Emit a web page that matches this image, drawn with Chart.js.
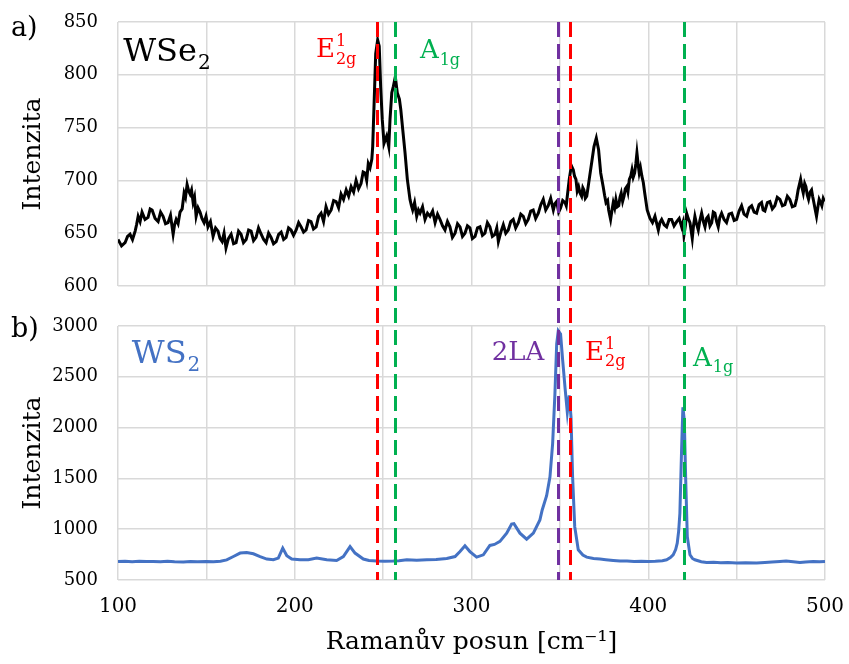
<!DOCTYPE html>
<html>
<head>
<meta charset="utf-8">
<script src="https://cdn.jsdelivr.net/npm/chart.js@4/dist/chart.umd.min.js"></script>
<style>
  body { margin: 0; background: #fff; }
  #wrap { position: relative; width: 849px; height: 664px; }
  canvas { position: absolute; left: 0; }
</style>
</head>
<body>
<div id="wrap">
  <canvas id="topChart" width="849" height="306" style="top:0"></canvas>
  <canvas id="bottomChart" width="849" height="358" style="top:306px"></canvas>
</div>
<script>
// WSe2 spectrum (a)
const wse2Shift = [
  100, 102, 104, 105.4, 106.8, 108.2, 109.7, 110.5, 111.4, 112.5,
  113.6, 115.3, 117, 118.2, 119.3, 121, 122.7, 124.1, 125.5, 126.9,
  128.3, 129.7, 131.2, 132, 132.9, 134, 135.1, 136.3, 137.4, 138.2,
  139.1, 140, 140.8, 141.6, 142.5, 143.3, 144.2, 145.3, 146.4, 147.5,
  148.7, 149.8, 150.9, 152.3, 153.8, 155.2, 156.6, 157.7, 158.9, 160,
  161.1, 162.5, 164, 165.4, 166.8, 168.2, 169.6, 171, 172.5, 173.9,
  175.3, 176.7, 178.1, 179.5, 181, 182.4, 183.8, 185.2, 186.6, 188,
  189.5, 190.9, 192.3, 193.7, 195.1, 196.5, 197.9, 199.3, 200.8, 202.2,
  203.6, 205, 206.4, 207.8, 209.2, 210.6, 212.1, 213.5, 214.9, 216.3,
  217.7, 219.1, 220.6, 222, 223.4, 224.8, 226.2, 227.6, 229.1, 230.5,
  231.9, 233.3, 234.7, 236.1, 237.5, 238.7, 239.8, 240.7, 241.6, 242.6,
  243.6,
  244.1, 244.9, 245.8, 246.9, 247.8, 248.6, 249.5, 250.5, 252, 253.2,
  253.9, 254.9, 255.8, 256.9, 258, 259.2, 260, 261.1, 262.4, 263.7,
  265.2, 266, 266.7, 267.8, 269, 270, 270.9, 272.3, 273.7, 275.1,
  276.5, 278, 279.4, 280.8, 282.2, 283.6, 285, 286.4, 287.8, 289.2,
  290.7, 292.1, 293.5, 294.9, 296.3, 297.7, 299.1, 300.5, 302, 303.4,
  304.8, 306.2, 307.6, 309, 310.4, 311.8, 313.3, 314.3, 315.2, 316.6,
  318, 319.4, 320.8, 322.2, 323.6, 325, 326.5, 327.9, 329.3, 330.7,
  332.1, 333.5, 334.9, 336.3, 337.8, 339.2, 340.6, 342, 343.4, 344.8,
  346.3, 347.2, 348.2, 349.3, 350.4, 351.6, 352.9, 353.6, 354.2, 355.3,
  356.5, 357.6, 358.3, 359.1, 359.8, 360.6, 361.4, 362.3, 363, 363.6,
  364.4, 365.2, 366, 366.6, 368, 369.3, 370.6, 371.9, 373.1, 374.5,
  375.3, 376.1, 377, 377.6, 378.7, 379.5, 380.2, 381, 381.7, 382.5,
  383.3, 384, 384.7, 385.5, 386.3, 387, 387.8, 388.5, 389.3, 390.1,
  390.8, 391.5, 392.3, 393, 393.6, 394.3, 394.9, 395.6, 396.4, 397.2,
  398, 398.7, 399.4, 400.2, 401, 402.4, 403.8, 404.8, 405.7, 406.6,
  407.6, 409, 410.4, 411.8, 413.2, 414.6, 416.1, 417.5, 418.9, 419.6,
  420.2, 421, 421.7, 422.6, 423.6, 424.3, 424.9, 425.6, 426.4, 427.3,
  428.3, 429.2, 430.2, 431.2, 432.1, 433, 433.9, 434.9, 435.9, 436.8,
  437.7, 438.7, 439.6, 440.5, 441.5, 442.9, 444.3, 445.7, 447.2, 448.6,
  450, 451.4, 452.8, 454.2, 455.7, 457.1, 458.5, 459.9, 461.3, 462.7,
  464.1, 465, 466, 467.4, 468.8, 470.2, 471.6, 473, 474.5, 475.9,
  477.3, 478.7, 480.1, 481.5, 483, 484, 484.8, 485.5, 486.2, 487,
  487.7, 488.5, 489.2, 490, 490.7, 491.6, 492.4, 493, 493.7, 494.5,
  495.2, 496, 496.7, 497.5, 498.2, 499, 499.8
];
const wse2Intensity = [
  644, 638, 641, 647, 649, 644, 652, 658, 666, 661,
  670, 663, 665, 673, 672, 664, 661, 670, 666, 659,
  660, 667, 649, 658, 663, 659, 670, 673, 688, 684,
  696, 690, 687, 691, 679, 684, 666, 674, 670, 664,
  660, 666, 656, 661, 647, 655, 652, 645, 642, 650,
  636, 645, 649, 640, 641, 652, 649, 641, 644, 653,
  652, 643, 646, 655, 649, 644, 641, 650, 646, 640,
  642, 649, 651, 644, 646, 655, 653, 648, 653, 660,
  656, 651, 653, 662, 661, 654, 656, 666, 669, 661,
  675, 668, 672, 681, 680, 674, 687, 682, 691, 685,
  694, 689, 700, 692, 697, 708, 707, 700, 716, 712,
  720,
  732, 773, 820, 833, 827, 789, 758, 735, 742, 732,
  758, 783, 789, 798, 783, 777, 767, 748, 726, 701,
  682, 676, 672, 679, 666, 672, 669, 675, 663, 669,
  666, 671, 660, 668, 663, 657, 653, 661, 656, 646,
  650, 659, 656, 647, 650, 657, 655, 645, 647, 655,
  656, 648, 650, 660, 656, 647, 649, 655, 642, 651,
  658, 650, 653, 661, 663, 655, 660, 668, 666, 659,
  663, 671, 672, 664, 669, 677, 682, 672, 676, 683,
  672, 678, 680, 670, 674, 681, 679, 676, 685, 701,
  714, 710, 704, 701, 690, 694, 688, 685, 693, 691,
  683, 685, 694, 701, 717, 732, 740, 729, 707, 694,
  686, 679, 681, 672, 663, 672, 679, 674, 682, 675,
  676, 684, 688, 680, 685, 692, 694, 689, 701, 704,
  710, 703, 707, 716, 726, 715, 707, 712, 704, 698,
  688, 680, 672, 668, 664, 660, 666, 659, 653, 660,
  663, 658, 656, 663, 663, 657, 661, 664, 656, 660,
  648, 657, 669, 664, 660, 652, 645, 657, 666, 659,
  653, 662, 669, 661, 656, 664, 666, 657, 660, 670,
  669, 661, 656, 665, 669, 663, 660, 668, 669, 662,
  663, 671, 676, 668, 666, 674, 676, 670, 669, 677,
  679, 672, 671, 679, 680, 673, 676, 684, 682, 676,
  677, 685, 682, 675, 676, 683, 691, 696, 701, 693,
  688, 697, 694, 686, 682, 689, 691, 685, 679, 672,
  666, 675, 682, 679, 676, 683, 680
];

// WS2 spectrum (b)
const ws2Shift = [100, 104, 108, 112, 116, 120, 124, 128, 132, 137, 141, 145, 150, 154, 158, 161.5, 165.3, 169.1, 172.8, 176.6, 180.4, 184.2, 187.9, 190.7, 193.2, 195.5, 198.3, 203, 207.7, 212.4, 218.1, 223.7, 227.5, 231.3, 234.1, 238.8, 242, 246.4, 251, 255.8, 259, 263.4, 269, 274.7, 280, 286, 290.7, 293.5, 296.3, 299.1, 302.9, 306.7, 310.4, 313, 316.1, 319.9, 322.7, 324, 327.4, 331.2, 335, 338.7, 340, 342.5, 344.4, 345.9, 347.2, 348.2, 349.1, 350.4, 351.6, 352.9, 354.2, 355.3, 356.3, 357.2, 358.4, 360.4, 363, 365.2, 369, 372.7, 376, 380.2, 384, 388, 392, 396, 400, 404, 408, 410.4, 412.5, 414.1, 415.5, 416.4, 417.2, 417.9, 418.9, 419.6, 420.4, 421.2, 422.1, 423.6, 425, 426.4, 430, 433, 437, 441, 445, 450, 455, 461.3, 466, 470, 474.5, 478, 482, 485.8, 489, 493.3, 497, 500];
const ws2Intensity = [682, 685, 680, 684, 681, 683, 679, 684, 680, 678, 683, 680, 682, 679, 684, 698, 731, 765, 771, 758, 731, 706, 699, 716, 814, 738, 706, 699, 699, 716, 699, 692, 731, 829, 765, 706, 692, 686, 684, 686, 690, 699, 694, 699, 702, 712, 731, 780, 836, 780, 725, 748, 840, 850, 880, 961, 1050, 1055, 961, 902, 961, 1091, 1189, 1330, 1515, 1843, 2333, 2823, 2953, 2920, 2659, 2397, 2152, 2316, 2103, 1515, 1025, 797, 745, 725, 712, 706, 700, 692, 686, 688, 683, 685, 682, 684, 690, 699, 720, 748, 800, 863, 980, 1157, 1809, 2201, 2071, 1483, 927, 748, 712, 699, 680, 672, 675, 670, 672, 667, 670, 667, 672, 676, 682, 686, 680, 672, 678, 682, 680, 682];

// Raman mode positions (cm-1)
const modeShift = [246.4, 256.7, 349.2, 355.6, 420.2];
const modeColor = ['#FF0000', '#00B050', '#7030A0', '#FF0000', '#00B050'];

const xTicks = [100, 200, 300, 400, 500];

const FONT = "'DejaVu Serif', serif";
Chart.defaults.font.family = FONT;
Chart.defaults.color = '#000';

const GRID = '#d9d9d9';

function drawLabel(ctx, item, x, y) {
  ctx.fillStyle = item.color;
  ctx.textAlign = 'left';
  ctx.textBaseline = 'alphabetic';
  ctx.font = item.size + 'px ' + FONT;
  ctx.fillText(item.base, x, y);
  const w = ctx.measureText(item.base).width;
  ctx.font = Math.round(item.size * 0.62) + 'px ' + FONT;
  if (item.sup) ctx.fillText(item.sup, x + w + 1, y - item.size * 0.4);
  if (item.sub) ctx.fillText(item.sub, x + w + 1, y + item.size * 0.26);
}

const ramanPlugin = {
  id: 'raman',
  afterDatasetsDraw(chart, args, opts) {
    const { ctx, chartArea, scales } = chart;
    const top = opts.extendUp ? 0 : chartArea.top;
    const bottom = opts.extendDown ? chart.height : chartArea.bottom;
    ctx.save();
    ctx.lineWidth = 3;
    ctx.setLineDash([15, 7]);
    ctx.lineDashOffset = opts.dashOffset || 0;
    modeShift.forEach((v, i) => {
      const px = Math.round(scales.x.getPixelForValue(v)) + 0.5;
      ctx.strokeStyle = modeColor[i];
      ctx.beginPath();
      ctx.moveTo(px, top);
      ctx.lineTo(px, bottom);
      ctx.stroke();
    });
    ctx.setLineDash([]);
    (opts.labels || []).forEach(item => {
      drawLabel(ctx, item, scales.x.getPixelForValue(item.x), scales.y.getPixelForValue(item.y));
    });
    if (opts.panel) {
      ctx.fillStyle = '#000';
      ctx.font = '27px ' + FONT;
      ctx.textAlign = 'left';
      ctx.textBaseline = 'alphabetic';
      ctx.fillText(opts.panel.text, 11, opts.panel.baseline);
    }
    ctx.restore();
  }
};

// stop the scales from adding their own label padding, layout padding alone sets the plot area
function noPad(s) {
  s.paddingLeft = 0; s.paddingRight = 0; s.paddingTop = 0; s.paddingBottom = 0;
}

function baseOptions(yMin, yMax, yStep, showX) {
  return {
    responsive: false,
    animation: false,
    events: [],
    layout: { autoPadding: false, padding: { left: 0, right: 24, top: showX ? 20 : 22, bottom: 0 } },
    plugins: { legend: { display: false }, tooltip: { enabled: false } },
    scales: {
      x: {
        type: 'linear', min: 100, max: 500,
        grid: { color: GRID, lineWidth: 1.5, drawTicks: false },
        border: { display: false },
        ticks: {
          display: showX, stepSize: 50, padding: 15, font: { size: 20 },
          callback: v => (xTicks.includes(v) ? String(v) : '')
        },
        title: {
          display: showX, text: 'Ramanův posun [cm⁻¹]', font: { size: 25 },
          padding: { top: 0, bottom: 7 }
        },
        afterFit: s => { s.height = showX ? 84 : 20; noPad(s); }
      },
      y: {
        min: yMin, max: yMax,
        grid: { color: GRID, lineWidth: 1.5, drawTicks: false },
        border: { display: false },
        ticks: { stepSize: yStep, padding: 20, font: { size: 18 }, callback: v => String(v) },
        title: { display: true, text: 'Intenzita', font: { size: 25 }, padding: { top: 18, bottom: 0 } },
        afterFit: s => { s.width = 118; noPad(s); }
      }
    }
  };
}

const topOpts = baseOptions(600, 850, 50, false);
topOpts.plugins.raman = {
  extendDown: true,
  panel: { text: 'a)', baseline: 36 },
  labels: [
    { base: 'WSe', sub: '2', x: 102.9, y: 813, size: 32, color: '#000' },
    { base: 'E', sup: '1', sub: '2g', x: 212, y: 817, size: 26, color: '#FF0000' },
    { base: 'A', sub: '1g', x: 270.8, y: 816, size: 26, color: '#00B050' }
  ]
};

const topChart = new Chart(document.getElementById('topChart'), {
  type: 'line',
  data: {
    datasets: [{
      data: wse2Shift.map((x, i) => ({ x: x, y: wse2Intensity[i] })),
      borderColor: '#000', borderWidth: 3, pointRadius: 0, tension: 0
    }]
  },
  options: topOpts,
  plugins: [ramanPlugin]
});

const bottomOpts = baseOptions(500, 3000, 500, true);
bottomOpts.plugins.raman = {
  extendUp: true,
  dashOffset: (topChart.height - topChart.chartArea.top) % 22,
  panel: { text: 'b)', baseline: 31 },
  labels: [
    { base: 'WS', sub: '2', x: 107.8, y: 2639, size: 32, color: '#4472C4' },
    { base: '2LA', x: 311.4, y: 2669, size: 26, color: '#7030A0' },
    { base: 'E', sup: '1', sub: '2g', x: 364.2, y: 2669, size: 26, color: '#FF0000' },
    { base: 'A', sub: '1g', x: 425.3, y: 2610, size: 26, color: '#00B050' }
  ]
};

new Chart(document.getElementById('bottomChart'), {
  type: 'line',
  data: {
    datasets: [{
      data: ws2Shift.map((x, i) => ({ x: x, y: ws2Intensity[i] })),
      borderColor: '#4472C4', borderWidth: 3, pointRadius: 0, tension: 0
    }]
  },
  options: bottomOpts,
  plugins: [ramanPlugin]
});
</script>
</body>
</html>
